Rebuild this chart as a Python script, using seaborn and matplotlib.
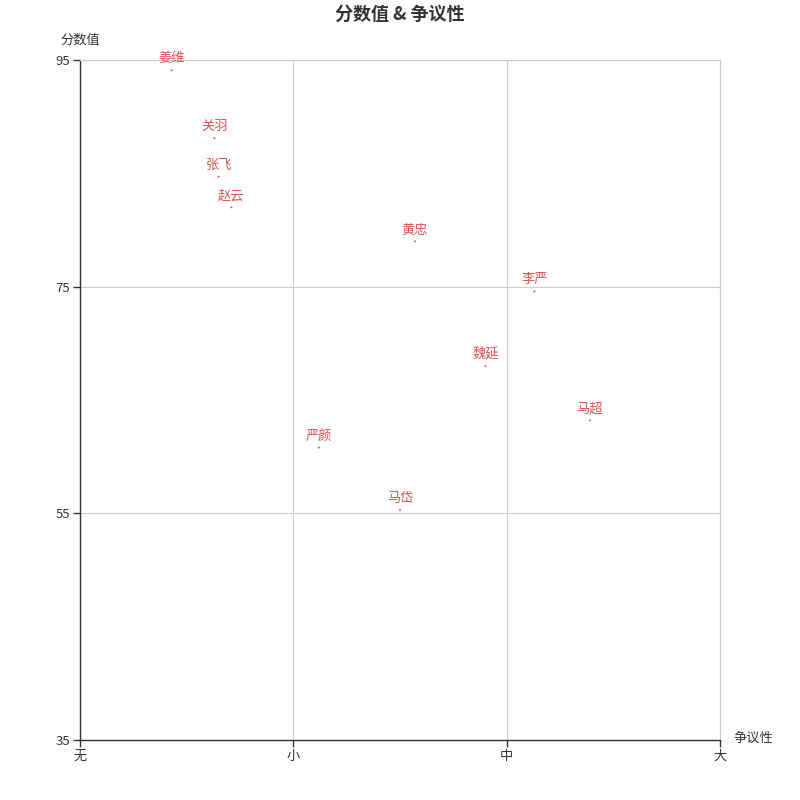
import matplotlib
matplotlib.use("Agg")
import matplotlib.pyplot as plt
import seaborn as sns
import pandas as pd

sns.set_theme(style="white")
plt.rcParams['font.family'] = ['Noto Sans CJK SC', 'DejaVu Sans']

# 数据
names = ['姜维', '关羽', '张飞', '赵云', '黄忠', '李严', '魏延', '马超', '严颜', '马岱']
controversy = [0.43, 0.63, 0.65, 0.71, 1.57, 2.13, 1.90, 2.39, 1.12, 1.50]
score = [94.1, 88.1, 84.7, 82.0, 79.0, 74.6, 68.0, 63.2, 60.8, 55.3]
x_ticks = ['无', '小', '中', '大']
y_ticks = [35, 55, 75, 95]

df = pd.DataFrame({'name': names, 'x': controversy, 'y': score})
red = '#d9534f'

fig = plt.figure(figsize=(8, 8), dpi=100)
ax = fig.add_axes([0.1, 0.075, 0.8, 0.85])
sns.scatterplot(data=df, x='x', y='y', ax=ax, s=2, color=red, edgecolor='none', legend=False)

for _, r in df.iterrows():
    ax.annotate(r['name'], (r['x'], r['y']), xytext=(0, 3.5), textcoords='offset points',
                ha='center', va='bottom', color=red, fontsize=9.5)

ax.set_xlim(0, 3)
ax.set_ylim(35, 95)
ax.set_xticks(range(4))
ax.set_xticklabels(x_ticks)
ax.set_yticks(y_ticks)
ax.grid(True, color='#cccccc', linewidth=0.8)
ax.set_axisbelow(True)

for s in ['top', 'right']:
    ax.spines[s].set_color('#cccccc')
    ax.spines[s].set_linewidth(0.8)
for s in ['left', 'bottom']:
    ax.spines[s].set_color('#333333')
    ax.spines[s].set_linewidth(1)

ax.tick_params(axis='both', which='both', direction='out', length=5, width=1,
               color='#333333', labelcolor='#333333', labelsize=9.5, pad=2,
               left=True, bottom=True)
ax.set_xlabel('')
ax.set_ylabel('')
ax.text(0, 1.02, '分数值', transform=ax.transAxes, ha='center', va='bottom', fontsize=9.5, color='#333333')
ax.text(1.052, 0.002, '争议性', transform=ax.transAxes, ha='center', va='center', fontsize=9.5, color='#333333')

fig.suptitle('分数值 & 争议性', y=0.994, fontsize=13, fontweight='bold', color='#333333')

fig.savefig('out.png', dpi=100)
